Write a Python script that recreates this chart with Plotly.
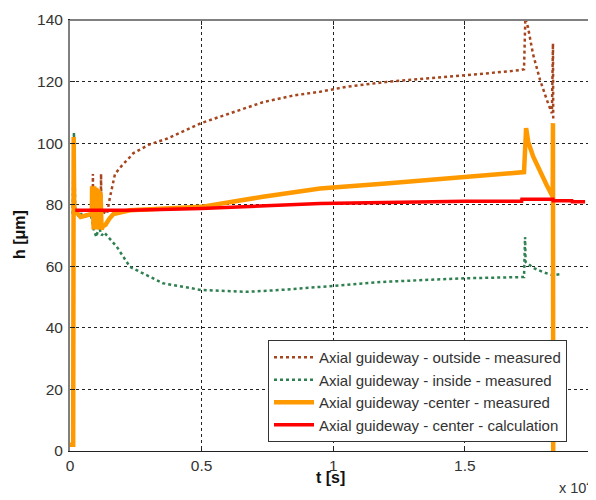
import plotly.graph_objects as go

# ---- data (t in s, h in um) ----
out_t = [100, 300, 500, 800, 860, 870, 880, 1000, 1170, 1180, 1190, 1406, 1520, 1710, 2000, 2280, 2400,
         3000, 3700, 4980, 6000, 7330, 8500, 9500, 10500, 12030, 13500, 15000, 16000, 17100, 17250,
         17300, 17400, 17590, 17860, 18120, 18310, 18350, 18360]
out_h = [77.5, 76.5, 76, 76.5, 77, 90, 77, 77, 78, 90, 78, 77, 82.5, 90, 93, 95.5, 96.7,
         99.5, 101.5, 106.5, 109.5, 113.3, 115.5, 116.7, 118.3, 119.9, 121, 122, 122.8, 123.7, 124,
         140.5, 137.7, 129, 120.5, 114, 109.7, 132.4, 108]

in_t = [100, 150, 200, 500, 800, 900, 1000, 1100, 1200, 1300, 1780, 2280, 3530, 4980, 6710, 7980,
        9500, 12000, 15000, 17100, 17250, 17290, 17310, 17600, 18000, 18350, 18700]
in_h = [77, 103.6, 77, 77, 76.5, 72, 69.5, 73, 70, 71, 66.3, 59.8, 54.5, 52.3, 51.7, 52.3,
        53.3, 55.0, 56.1, 56.6, 56.5, 69.5, 61.4, 59.5, 58, 57.1, 57.5]

ctr_t = [0, 120, 140, 160, 250, 400, 600, 830, 840, 860, 880, 900, 920, 940, 960, 980, 1000, 1020,
         1040, 1060, 1080, 1100, 1120, 1140, 1160, 1180, 1200, 1250, 1350, 1500, 1650, 2280, 4980,
         7330, 9500, 12000, 15000, 17100, 17250, 17330, 17410, 17600, 17860, 18110, 18340, 18350, 18360]
ctr_h = [2, 2, 102, 78, 77.5, 76, 76.5, 77, 86, 73, 86, 72, 86, 74, 85.5, 72, 85.5, 74,
         84.5, 72, 85, 73, 84.5, 72, 84, 73, 72, 73, 73.5, 75.5, 77, 78.2, 79.3,
         82.6, 85.3, 86.9, 89, 90.4, 90.6, 104.9, 100.4, 95.6, 90.7, 86.4, 82.6, 106.5, -5]

calc_t = [200, 2280, 4980, 9500, 15000, 17160, 17170, 18350, 18360, 19070, 19080, 19570]
calc_h = [78.2, 78.2, 78.8, 80.4, 81.1, 81.1, 81.8, 81.8, 81.3, 81.3, 81.0, 81.0]

x_ticks = [0, 5000, 10000, 15000]
x_tick_labels = ["0", "0.5", "1", "1.5"]
y_ticks = [0, 20, 40, 60, 80, 100, 120, 140]

names = ["Axial guideway - outside - measured",
         "Axial guideway - inside - measured",
         "Axial guideway -center - measured",
         "Axial guideway - center - calculation"]

FONT = "Liberation Sans, Arial, sans-serif"
TXT = "#333333"

fig = go.Figure()
fig.add_trace(go.Scatter(x=out_t, y=out_h, mode="lines", name=names[0],
                         line=dict(color="#A5461E", width=2.5, dash="dot")))
fig.add_trace(go.Scatter(x=in_t, y=in_h, mode="lines", name=names[1],
                         line=dict(color="#2E8050", width=2.5, dash="dot")))
fig.add_trace(go.Scatter(x=ctr_t, y=ctr_h, mode="lines", name=names[2],
                         line=dict(color="#FF9900", width=4.5)))
fig.add_trace(go.Scatter(x=calc_t, y=calc_h, mode="lines", name=names[3],
                         line=dict(color="#FF0000", width=3.5)))

# the page body has an 8px default margin: the figure is sized to fill 8..596 / 8..500
W, H = 588, 492
L, T, B = 62, 12, 49
PW = 526.0   # plot width in px
PH = 431.0   # plot height in px


def px(xp):   # page x -> paper x
    return (xp - 70) / PW


def py(yp):   # page y -> paper y
    return (451 - yp) / PH


fig.update_layout(
    width=W, height=H,
    margin=dict(l=L, r=0, t=T, b=B, autoexpand=False),
    paper_bgcolor="white", plot_bgcolor="white",
    font=dict(family=FONT, size=15.5, color=TXT),
    showlegend=True,
    legend=dict(x=px(268), y=py(340), xanchor="left", yanchor="top",
                bgcolor="white", bordercolor="#333333", borderwidth=1,
                font=dict(size=15, color=TXT), itemwidth=40, tracegroupgap=0),
    xaxis=dict(range=[0, 19985], tickvals=x_ticks, ticktext=x_tick_labels, automargin=False,
               showgrid=True, gridcolor="#222222", griddash="dot", gridwidth=1,
               zeroline=False, showline=True, linecolor="#222222", linewidth=1,
               ticks="inside", ticklen=5, tickcolor="#222222", mirror="ticks"),
    yaxis=dict(range=[0, 140], tickvals=y_ticks, automargin=False,
               showgrid=True, gridcolor="#222222", griddash="dot", gridwidth=1,
               zeroline=False, showline=True, linecolor="#808080", linewidth=2,
               ticks="inside", ticklen=5, tickcolor="#222222", mirror="ticks",
               ticklabelstandoff=2),
)

# top border (gray)
fig.add_shape(type="line", xref="paper", yref="paper", x0=0, x1=1, y0=1, y1=1,
              line=dict(color="#808080", width=2))

# axis titles and exponent label
fig.add_annotation(text="<b>t [s]</b>", xref="paper", yref="paper",
                   x=px(330), y=py(477),
                   showarrow=False, xanchor="center", yanchor="middle",
                   font=dict(size=16, color="#111111"))
fig.add_annotation(text="<b>h [μm]</b>", xref="paper", yref="paper",
                   x=px(19), y=py(235), textangle=-90,
                   showarrow=False, xanchor="center", yanchor="middle",
                   font=dict(size=16, color="#111111"))
fig.add_annotation(text="x 10<sup>4</sup>", xref="paper", yref="paper",
                   x=px(557), y=py(487),
                   showarrow=False, xanchor="left", yanchor="middle",
                   font=dict(size=14.5, color=TXT))
fig.add_annotation(text="2", xref="paper", yref="paper", x=px(597),
                   y=py(464),
                   showarrow=False, xanchor="center", yanchor="middle",
                   font=dict(size=15.5, color=TXT))

fig.write_html("out.html")
